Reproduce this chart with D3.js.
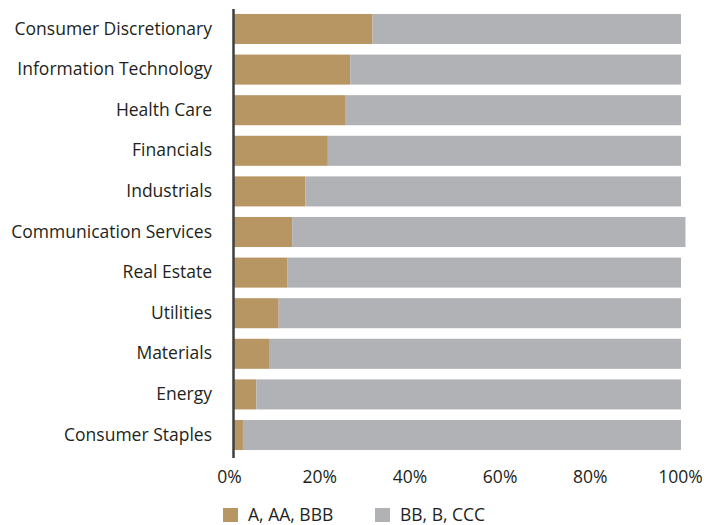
<!DOCTYPE html>
<html>
<head>
<script src="https://cdn.jsdelivr.net/npm/d3@7"></script>
<style>
  body { margin: 0; background: #fff; }
  text { font-family: "Open Sans", sans-serif; fill: #231f20; }
</style>
</head>
<body>
<script>

// data
var sectors = ["Consumer Discretionary", "Information Technology", "Health Care", "Financials",
               "Industrials", "Communication Services", "Real Estate", "Utilities",
               "Materials", "Energy", "Consumer Staples"];
var investmentGrade = [31, 26, 25, 21, 16, 13, 12, 10, 8, 5, 2];
var highYield = [69, 74, 75, 79, 84, 88, 88, 90, 92, 95, 98];
var seriesNames = ["A, AA, BBB", "BB, B, CCC"];
var tickValues = [0, 20, 40, 60, 80, 100];

var colors = ["#b89664", "#b1b2b5"];

var width = 707,
    height = 525;

var svg = d3.select("body").append("svg")
            .attr("width", width)
            .attr("height", height);

var x = d3.scaleLinear().domain([0, 100]).range([234, 681]);
// tick labels in the original sit a little left of the bar scale
var xTicks = d3.scaleLinear().domain([0, 100]).range([229, 680]);
var y = d3.scaleBand().domain(sectors).range([8.7, 455.3]).paddingInner(0.26).paddingOuter(0.13);

var rows = sectors.map(function (s, i) {
  return { name: s, a: investmentGrade[i], b: highYield[i] };
});

var g = svg.append("g");

g.selectAll("rect.a")
 .data(rows)
 .enter().append("rect")
 .attr("class", "a")
 .attr("x", x(0))
 .attr("y", function (d) { return y(d.name); })
 .attr("width", function (d) { return x(d.a) - x(0); })
 .attr("height", y.bandwidth())
 .attr("fill", colors[0]);

g.selectAll("rect.b")
 .data(rows)
 .enter().append("rect")
 .attr("class", "b")
 .attr("x", function (d) { return x(d.a); })
 .attr("y", function (d) { return y(d.name); })
 .attr("width", function (d) { return x(d.a + d.b) - x(d.a); })
 .attr("height", y.bandwidth())
 .attr("fill", colors[1]);

// category labels
var yAxis = svg.append("g")
               .attr("transform", "translate(" + x(0) + ",0)")
               .call(d3.axisLeft(y).tickSize(0).tickPadding(22));
yAxis.select(".domain").remove();
yAxis.selectAll("text")
     .style("font-size", "17.5px")
     .attr("fill", "#231f20");

// vertical axis line
svg.append("line")
   .attr("x1", x(0) - 0.5).attr("x2", x(0) - 0.5)
   .attr("y1", 9).attr("y2", 458)
   .attr("stroke", "#3f3f3f")
   .attr("stroke-width", 2.5);

// percent axis
var xAxis = svg.append("g")
               .attr("transform", "translate(0,463)")
               .call(d3.axisBottom(xTicks).tickValues(tickValues).tickSize(0).tickPadding(8)
                     .tickFormat(function (d) { return d + "%"; }));
xAxis.select(".domain").remove();
xAxis.selectAll("text")
     .style("font-size", "17.5px")
     .attr("fill", "#231f20");

// legend
var legendX = [223, 375];
var legend = svg.selectAll("g.legend")
                .data(seriesNames)
                .enter().append("g")
                .attr("class", "legend")
                .attr("transform", function (d, i) { return "translate(" + legendX[i] + ",508)"; });
legend.append("rect")
      .attr("width", 15).attr("height", 14)
      .attr("fill", function (d, i) { return colors[i]; });
legend.append("text")
      .attr("x", 25).attr("y", 13)
      .style("font-size", "17.5px")
      .text(function (d) { return d; });

</script>
</body>
</html>
